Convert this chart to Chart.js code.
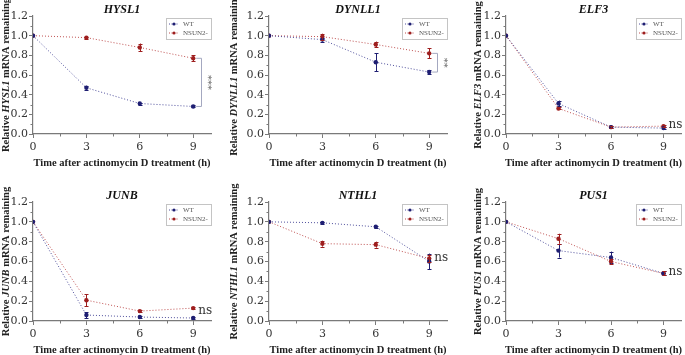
<!DOCTYPE html>
<html>
<head>
<meta charset="utf-8">
<script src="https://cdn.jsdelivr.net/npm/chart.js@4.4.1/dist/chart.umd.min.js"></script>
<style>
  html, body { margin: 0; padding: 0; background: #fff; }
  #wrap { position: relative; width: 685px; height: 355px; overflow: hidden; }
  #wrap canvas { position: absolute; }
</style>
</head>
<body>
<div id="wrap"></div>
<script>
// data
const hours = [0, 3, 6, 9];
const genes = ['HYSL1', 'DYNLL1', 'ELF3', 'JUNB', 'NTHL1', 'PUS1'];
const seriesNames = ['WT', 'NSUN2-'];

const wtMean = [
  [1.0, 0.47, 0.31, 0.28],
  [1.0, 0.96, 0.73, 0.63],
  [1.0, 0.31, 0.07, 0.06],
  [1.0, 0.06, 0.04, 0.03],
  [1.0, 0.99, 0.95, 0.60],
  [1.0, 0.71, 0.64, 0.48]
];
const wtErr = [
  [0, 0.02, 0.01, 0.01],
  [0, 0.02, 0.09, 0.02],
  [0, 0.03, 0.01, 0.01],
  [0, 0.03, 0.01, 0.01],
  [0, 0.01, 0.01, 0.08],
  [0, 0.07, 0.06, 0.02]
];
const nsunMean = [
  [1.0, 0.98, 0.88, 0.77],
  [1.0, 0.99, 0.91, 0.82],
  [1.0, 0.26, 0.07, 0.08],
  [1.0, 0.21, 0.10, 0.13],
  [1.0, 0.78, 0.77, 0.63],
  [1.0, 0.83, 0.60, 0.48]
];
const nsunErr = [
  [0, 0.01, 0.04, 0.03],
  [0, 0.03, 0.03, 0.05],
  [0, 0.01, 0.01, 0.01],
  [0, 0.06, 0.01, 0.01],
  [0, 0.03, 0.03, 0.04],
  [0, 0.05, 0.03, 0.02]
];
const sigMarks = ['***', '**', 'ns', 'ns', 'ns', 'ns'];

const xTitle = 'Time after actinomycin D treatment (h)';
const WT_COL = '#1e1e72';
const NS_COL = '#9e1e1e';
const AXIS_COL = '#7a7a7a';
const SERIF = '"DejaVu Serif", serif';
const TSERIF = '"Liberation Serif", serif';

// panel layout (canvas coords)
const cols = [
  { x: 0,   w: 228, left: 33, right: 211, ytx: 6 },
  { x: 228, w: 228, left: 41, right: 219, ytx: 6 },
  { x: 456, w: 229, left: 50, right: 228, ytx: 22 }
];
const rows = [
  { y: 0,   h: 178, top: 16, bottom: 134 },
  { y: 178, h: 177, top: 24, bottom: 143 }
];

const decorations = {
  id: 'decorations',
  afterDraw(chart, args, opts) {
    const { ctx, chartArea: a, scales: { x, y } } = chart;
    const g = opts.gene;
    ctx.save();

    // minor ticks
    ctx.strokeStyle = AXIS_COL;
    ctx.lineWidth = 1;
    ctx.beginPath();
    for (let v = 1.5; v < 10; v += 3) {
      const px = Math.round(x.getPixelForValue(v)) + 0.5;
      ctx.moveTo(px, a.bottom); ctx.lineTo(px, a.bottom + 2.5);
    }
    for (let v = 0.1; v < 1.2; v += 0.2) {
      const py = Math.round(y.getPixelForValue(v)) + 0.5;
      ctx.moveTo(a.left, py); ctx.lineTo(a.left - 2.5, py);
    }
    ctx.stroke();

    // title
    const cx = (a.left + a.right) / 2;
    ctx.fillStyle = '#111';
    ctx.textAlign = 'center';
    ctx.textBaseline = 'middle';
    ctx.font = 'italic bold 12px ' + TSERIF;
    ctx.fillText(genes[g], cx, a.top - 6);

    // x title
    ctx.font = 'bold 10.5px ' + TSERIF;
    ctx.fillStyle = '#222';
    ctx.fillText(xTitle, cx, a.bottom + 29);

    // y title, gene name italic
    const parts = [['bold 10.5px ', 'Relative '], ['italic bold 10.5px ', genes[g]], ['bold 10.5px ', ' mRNA remaining']];
    let total = 0;
    parts.forEach(p => { ctx.font = p[0] + TSERIF; total += ctx.measureText(p[1]).width; });
    ctx.translate(opts.ytx, (a.top + a.bottom) / 2);
    ctx.rotate(-Math.PI / 2);
    ctx.textAlign = 'left';
    let off = -total / 2;
    parts.forEach(p => {
      ctx.font = p[0] + TSERIF;
      ctx.fillText(p[1], off, 0);
      off += ctx.measureText(p[1]).width;
    });
    ctx.setTransform(1, 0, 0, 1, 0, 0);

    // legend box
    const bx = a.right - 45, by = a.top + 2, bw = 45, bh = 21;
    ctx.fillStyle = '#fff';
    ctx.fillRect(bx, by, bw, bh);
    ctx.strokeStyle = '#c4c4c4';
    ctx.lineWidth = 1;
    ctx.strokeRect(bx + 0.5, by + 0.5, bw, bh);
    chart.data.datasets.forEach((ds, i) => {
      const ly = by + 6 + i * 9;
      ctx.strokeStyle = ds.borderColor;
      ctx.setLineDash([1, 1.5]);
      ctx.beginPath(); ctx.moveTo(bx + 3, ly); ctx.lineTo(bx + 13, ly); ctx.stroke();
      ctx.setLineDash([]);
      ctx.fillStyle = ds.pointBackgroundColor;
      ctx.beginPath(); ctx.arc(bx + 8, ly, 1.6, 0, Math.PI * 2); ctx.fill();
      ctx.fillStyle = '#555';
      ctx.font = '7px ' + TSERIF;
      ctx.textAlign = 'left';
      ctx.textBaseline = 'middle';
      ctx.fillText(ds.label, bx + 17, ly + 0.5);
    });

    // significance
    const last = hours.length - 1;
    const mark = sigMarks[g];
    const x9 = x.getPixelForValue(hours[last]);
    if (mark === 'ns') {
      const yv = (wtMean[g][last] + nsunMean[g][last]) / 2 + 0.01;
      ctx.fillStyle = '#333';
      ctx.font = '12px ' + SERIF;
      ctx.textAlign = 'left';
      ctx.textBaseline = 'middle';
      ctx.fillText('ns', x9 + 5, y.getPixelForValue(yv) - 1);
    } else {
      const bxp = Math.round(x.getPixelForValue(hours[last] + 0.45)) + 0.5;
      const y1 = y.getPixelForValue(wtMean[g][last]);
      const y2 = y.getPixelForValue(nsunMean[g][last]);
      ctx.strokeStyle = '#a4a8c0';
      ctx.lineWidth = 1;
      ctx.beginPath();
      ctx.moveTo(x9 + 3, y1); ctx.lineTo(bxp, y1); ctx.lineTo(bxp, y2); ctx.lineTo(x9 + 3, y2);
      ctx.stroke();
      ctx.translate(bxp + 6, (y1 + y2) / 2);
      ctx.rotate(Math.PI / 2);
      ctx.fillStyle = '#666';
      ctx.font = '10px ' + SERIF;
      ctx.textAlign = 'center';
      ctx.textBaseline = 'middle';
      ctx.fillText(mark, 0, 0);
      ctx.setTransform(1, 0, 0, 1, 0, 0);
    }
    ctx.restore();
  }
};

// error bars from the err arrays
const errorBars = {
  id: 'errorBars',
  afterDatasetsDraw(chart) {
    const { ctx, scales: { y } } = chart;
    ctx.save();
    chart.data.datasets.forEach((ds, di) => {
      const meta = chart.getDatasetMeta(di);
      ctx.strokeStyle = ds.pointBackgroundColor;
      ctx.lineWidth = 1;
      meta.data.forEach((pt, i) => {
        const e = ds.errors[i];
        if (!e) return;
        const m = ds.data[i].y;
        const top = y.getPixelForValue(m + e), bot = y.getPixelForValue(m - e);
        const px = Math.round(pt.x) + 0.5;
        ctx.beginPath();
        ctx.moveTo(px, top); ctx.lineTo(px, bot);
        ctx.moveTo(px - 2, Math.round(top) + 0.5); ctx.lineTo(px + 2, Math.round(top) + 0.5);
        ctx.moveTo(px - 2, Math.round(bot) + 0.5); ctx.lineTo(px + 2, Math.round(bot) + 0.5);
        ctx.stroke();
      });
    });
    ctx.restore();
  }
};

const wrap = document.getElementById('wrap');

genes.forEach((gene, g) => {
  const c = cols[g % 3], r = rows[Math.floor(g / 3)];
  const cv = document.createElement('canvas');
  cv.width = c.w; cv.height = r.h;
  cv.style.left = c.x + 'px'; cv.style.top = r.y + 'px';
  cv.style.width = c.w + 'px'; cv.style.height = r.h + 'px';
  wrap.appendChild(cv);

  const mk = (label, mean, err, lineCol, ptCol) => ({
    label,
    data: hours.map((h, i) => ({ x: h, y: mean[i] })),
    errors: err,
    borderColor: lineCol,
    borderWidth: 1,
    borderDash: [1, 2],
    pointRadius: 2.2,
    pointBorderWidth: 0,
    pointBackgroundColor: ptCol,
    fill: false,
    tension: 0
  });

  new Chart(cv, {
    type: 'line',
    data: {
      datasets: [
        mk(seriesNames[0], wtMean[g], wtErr[g], 'rgba(50,50,140,0.85)', WT_COL),
        mk(seriesNames[1], nsunMean[g], nsunErr[g], 'rgba(180,50,50,0.85)', NS_COL)
      ]
    },
    options: {
      responsive: false,
      animation: false,
      devicePixelRatio: 1,
      layout: { padding: { left: c.left - 28, right: c.w - c.right, top: r.top, bottom: 0 } },
      plugins: {
        legend: { display: false },
        tooltip: { enabled: false },
        decorations: { gene: g, ytx: c.ytx }
      },
      scales: {
        x: {
          type: 'linear', min: 0, max: 10,
          afterFit: s => { s.height = r.h - r.bottom; },
          ticks: { stepSize: 3, includeBounds: false, color: '#333', padding: 3, font: { family: SERIF, size: 11 } },
          grid: { drawOnChartArea: false, tickLength: 4, tickColor: AXIS_COL },
          border: { color: AXIS_COL, width: 1.2 }
        },
        y: {
          min: 0, max: 1.2,
          afterFit: s => { s.width = 28; },
          ticks: { stepSize: 0.2, color: '#333', padding: 1, font: { family: SERIF, size: 11 }, callback: v => v.toFixed(1) },
          grid: { drawOnChartArea: false, tickLength: 4, tickColor: AXIS_COL },
          border: { color: AXIS_COL, width: 1.2 }
        }
      }
    },
    plugins: [errorBars, decorations]
  });
});
</script>
</body>
</html>
